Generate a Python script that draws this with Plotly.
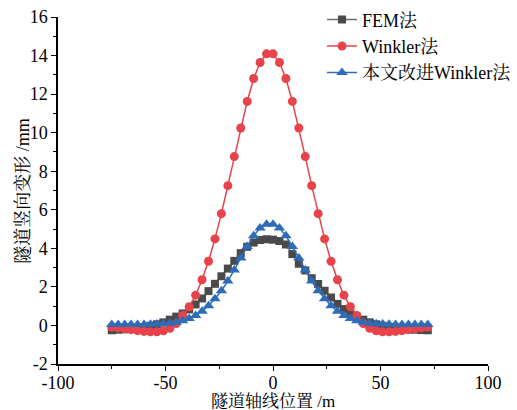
import plotly.graph_objects as go

x_pos = [-75, -72, -69, -66, -63, -60, -57, -54, -51, -48, -45, -42, -39, -36, -33, -30, -27, -24, -21, -18, -15, -12, -9, -6, -3,
         0, 3, 6, 9, 12, 15, 18, 21, 24, 27, 30, 33, 36, 39, 42, 45, 48, 51, 54, 57, 60, 63, 66, 69, 72]

fem = [-0.25, -0.22, -0.2, -0.17, -0.13, -0.08, -0.02, 0.06, 0.16, 0.3, 0.46, 0.62, 0.83, 1.09, 1.40, 1.78, 2.16, 2.55, 2.95, 3.35, 3.75, 4.08, 4.3, 4.43, 4.47,
       4.45, 4.38, 4.2, 3.7, 3.2, 2.85, 2.45, 2.15, 1.8, 1.45, 1.12, 0.85, 0.62, 0.43, 0.3, 0.16, 0.06, -0.02, -0.08, -0.13, -0.17, -0.2, -0.22, -0.24, -0.25]

winkler = [-0.08, -0.12, -0.17, -0.22, -0.27, -0.31, -0.33, -0.33, -0.28, -0.15, 0.1, 0.52, 0.97, 1.57, 2.37, 3.33, 4.49, 5.80, 7.25, 8.76, 10.24, 11.62, 12.81, 13.64, 14.09,
           14.09, 13.64, 12.81, 11.62, 10.24, 8.76, 7.25, 5.80, 4.49, 3.33, 2.37, 1.57, 0.97, 0.52, 0.1, -0.15, -0.28, -0.33, -0.33, -0.31, -0.27, -0.22, -0.17, -0.12, -0.08]

improved = [0.05, 0.05, 0.05, 0.05, 0.05, 0.05, 0.06, 0.07, 0.09, 0.12, 0.17, 0.25, 0.36, 0.52, 0.74, 1.02, 1.38, 1.8, 2.3, 2.88, 3.5, 4.1, 4.65, 5.05, 5.25,
            5.25, 5.05, 4.65, 4.1, 3.5, 2.88, 2.3, 1.8, 1.38, 1.02, 0.74, 0.52, 0.36, 0.25, 0.17, 0.12, 0.09, 0.07, 0.06, 0.05, 0.05, 0.05, 0.05, 0.05, 0.05]

names = ["FEM法", "Winkler法", "本文改进Winkler法"]
x_ticks = [-100, -50, 0, 50, 100]
y_ticks = [-2, 0, 2, 4, 6, 8, 10, 12, 14, 16]
x_title = "隧道轴线位置 /m"
y_title = "隧道竖向变形 /mm"

FONT = "Liberation Serif, Times New Roman, Noto Serif CJK SC, Noto Sans CJK SC, serif"

fig = go.Figure()
fig.add_trace(go.Scatter(x=x_pos, y=fem, name=names[0], mode="lines+markers",
                         line=dict(color="#6e6e6e", width=1.5),
                         marker=dict(symbol="square", size=8, color="#4a4a4a")))
fig.add_trace(go.Scatter(x=x_pos, y=winkler, name=names[1], mode="lines+markers",
                         line=dict(color="#e8434b", width=1.5),
                         marker=dict(symbol="circle", size=9, color="#e8434b")))
fig.add_trace(go.Scatter(x=x_pos, y=improved, name=names[2], mode="lines+markers",
                         line=dict(color="#2f6cb8", width=1.5),
                         marker=dict(symbol="triangle-up", size=10, color="#2f6cb8")))

axis_common = dict(showgrid=False, zeroline=False, showline=True, linecolor="black", linewidth=1.5,
                   ticks="outside", ticklen=5, tickwidth=1.2, tickcolor="black",
                   tickfont=dict(family=FONT, size=18, color="black"),
                   mirror=False, automargin=False)

fig.update_xaxes(**axis_common, range=[-100, 100], tickvals=x_ticks, ticktext=[str(v) for v in x_ticks],
                 ticklabelstandoff=-3,
                 minor=dict(ticks="outside", ticklen=3, tickwidth=1.2, tickcolor="black", tickvals=[-75, -25, 25, 75]))
fig.update_yaxes(**axis_common, range=[-2, 16], tickvals=y_ticks, ticktext=[str(v) for v in y_ticks],
                 minor=dict(ticks="outside", ticklen=3, tickwidth=1.2, tickcolor="black", tickvals=[-1, 1, 3, 5, 7, 9, 11, 13, 15]))

fig.add_annotation(text=x_title, xref="paper", yref="paper", x=0.5, y=-0.107,
                   xanchor="center", yanchor="middle", showarrow=False,
                   font=dict(family=FONT, size=17, color="black"))
fig.add_annotation(text=y_title, xref="paper", yref="paper", x=-0.083, y=0.5,
                   xanchor="center", yanchor="middle", showarrow=False, textangle=-90,
                   font=dict(family=FONT, size=18, color="black"))

fig.update_layout(
    width=517, height=410,
    margin=dict(l=58, r=29, t=17, b=46, autoexpand=False),
    plot_bgcolor="white", paper_bgcolor="white",
    font=dict(family=FONT, size=18, color="black"),
    legend=dict(x=0.614, y=1.045, xanchor="left", yanchor="top",
                bgcolor="rgba(0,0,0,0)", font=dict(family=FONT, size=18, color="black"),
                tracegroupgap=0, itemwidth=30),
    showlegend=True,
)

fig.write_html("out.html")
